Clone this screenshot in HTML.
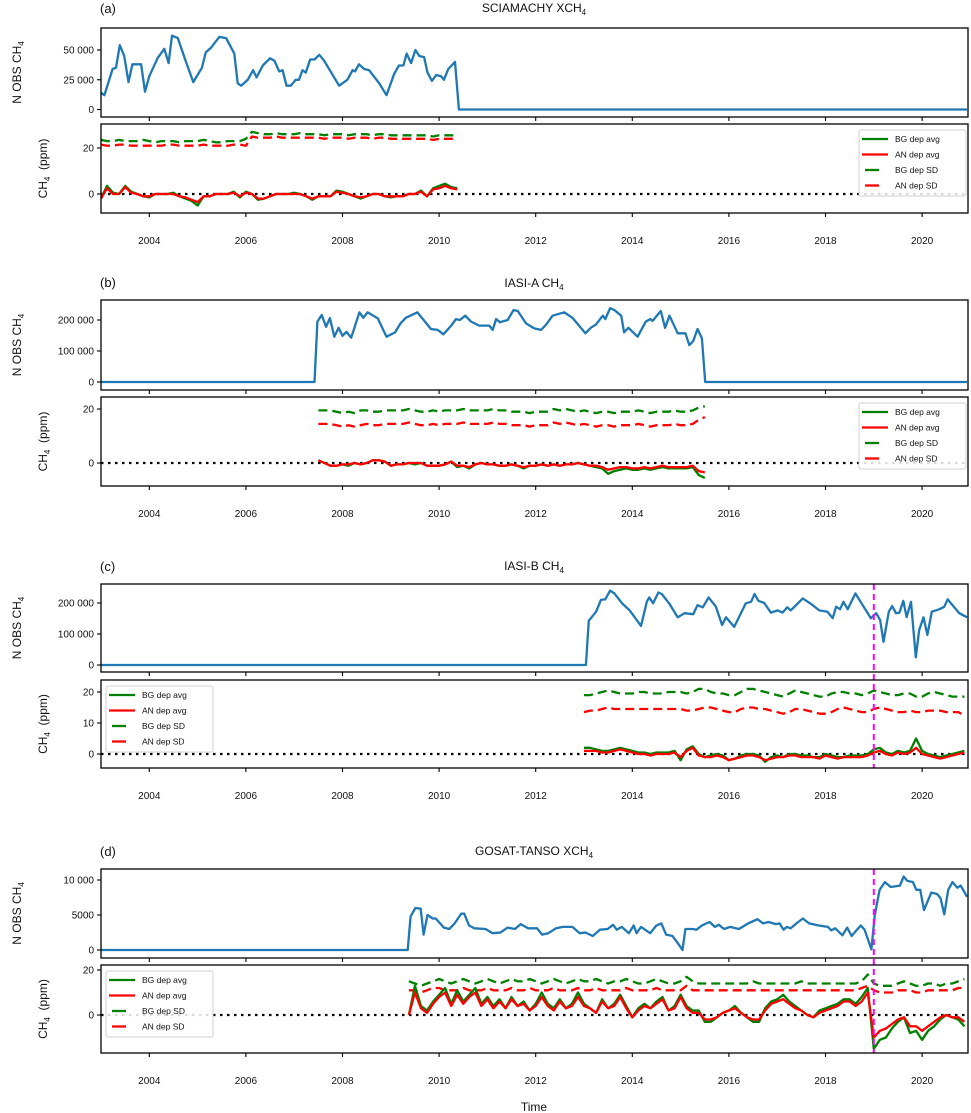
<!DOCTYPE html>
<html><head><meta charset="utf-8"><style>
html,body{margin:0;padding:0;background:#fff;}
svg{display:block;font-family:"Liberation Sans","DejaVu Sans",sans-serif;}
</style></head><body>
<svg id="fig" width="971" height="1113" viewBox="0 0 971 1113" xmlns="http://www.w3.org/2000/svg"></svg>
<script>
// ---------- shared x axis ----------
const xTickYears = [2004, 2006, 2008, 2010, 2012, 2014, 2016, 2018, 2020];
// ---------- Panel (a) SCIAMACHY ----------
const aObsTime = [2003.0,2003.07,2003.24,2003.31,2003.39,2003.48,2003.57,2003.65,2003.83,2003.91,2004.0,2004.17,2004.31,2004.40,2004.47,2004.59,2004.76,2004.91,2005.09,2005.17,2005.28,2005.45,2005.59,2005.76,2005.83,2005.90,2006.04,2006.15,2006.22,2006.35,2006.50,2006.59,2006.69,2006.76,2006.84,2006.93,2007.03,2007.10,2007.17,2007.24,2007.33,2007.42,2007.52,2007.62,2007.93,2008.10,2008.21,2008.26,2008.34,2008.45,2008.55,2008.76,2008.91,2009.07,2009.17,2009.26,2009.33,2009.42,2009.51,2009.59,2009.69,2009.76,2009.85,2009.94,2010.04,2010.10,2010.19,2010.33,2010.41,2020.93];
const aObsVal = [14,12,34,35,54,45,23,38,38,15,28,43,51,39,62,60,40,23,35,48,52,61,60,47,22,20,25,33,27,37,43,41,32,33,20,20,25,25,33,31,42,42,46,41,20,25,33,32,38,34,33,22,12,30,37,37,47,39,50,45,44,31,24,29,28,25,34,40,0,0];
const aDepStart = 2003.0;
const aBgAvg = [-2,3.5,0.5,0,3.5,1,0,-1,-1.5,0,0,0,0.5,-1,-2,-3,-5,-1,-1,0,0,0,1,-1.5,1,0,-2.5,-2,-1,0,0,0,0.5,0,-1,-2.5,-1,-1,-1,1.5,1,0,-1,-2,-1,0,0,-1,-1.5,-1,-1,0,0,1.5,-1,2.5,3.5,4.5,3,2.5];
const aAnAvg = [-2,2.5,0,0,3,0.5,0,-1,-1,0,0,0,0,-1,-1.5,-2.5,-3.5,-1,-1,0,0,0,0.5,-1,0.5,0,-2,-2,-1,0,0,0,0,0,-1,-2,-1,-1,-1,1,0.5,0,-1,-1.5,-1,0,0,-1,-1,-1,-1,0,0,1,-1,2,2.5,3.5,2.5,2];
const aBgSD = [23.5,23,23,23.5,23,23,23,23.5,23,22.5,23,23,23,22.5,23,23,23,23.5,23,22.5,22.5,23,23,23,24,27,26.5,26,26,26.5,26,26,26,26.5,26,26,26,25.5,26,26,26,25.5,26,26,26,25.5,26,26,25.5,25.5,25.5,25.5,25.5,25.5,25.5,25,25.5,25.5,25.5,25.5];
const aAnSD = [21.5,21,21,21.5,21.5,21,21,21,21,21,21,21.5,21.5,21,21,21,21,21.5,21,21,21,21,21.5,21.5,21,25,24.5,24.5,24.5,25,24.5,24.5,24.5,24.5,24.5,24.5,24.5,24,24.5,24.5,24.5,24,24.5,24.5,24.5,24,24.5,24.5,24,24,24,24,24,24,24,23.5,24,24,24,24];
// ---------- Panel (b) IASI-A ----------
const bObsTime = [2003.0,2007.42,2007.48,2007.57,2007.66,2007.74,2007.83,2007.92,2008.0,2008.08,2008.18,2008.35,2008.43,2008.52,2008.73,2008.91,2009.09,2009.2,2009.31,2009.55,2009.83,2009.97,2010.09,2010.25,2010.35,2010.43,2010.54,2010.66,2010.83,2011.04,2011.11,2011.18,2011.26,2011.42,2011.54,2011.63,2011.8,2011.97,2012.11,2012.21,2012.35,2012.59,2012.76,2013.03,2013.14,2013.25,2013.39,2013.44,2013.54,2013.63,2013.77,2013.83,2013.92,2014.11,2014.28,2014.37,2014.42,2014.59,2014.68,2014.77,2014.94,2015.1,2015.18,2015.26,2015.35,2015.44,2015.51,2020.93];
const bObsVal = [0,0,195,216,178,206,146,175,149,162,143,225,207,225,205,146,160,189,207,225,171,168,154,182,203,200,214,195,182,182,168,203,193,200,232,229,189,173,168,184,214,225,207,157,175,186,214,203,238,232,214,160,175,146,195,203,197,229,175,214,157,157,119,132,171,141,0,0];
const bDepStart = 2007.5;
const bBgAvg = [1,0,-1,-1,-0.5,-1,0,-0.5,0,1,1,0.5,-1,-0.5,-0.5,0,-0.5,0,-1,-1,-1,-0.5,0.5,-1.5,-1,-2,-0.5,0,-0.5,-0.5,-1,-1,-0.5,-1,-2,-1,-1,-0.5,-1,-0.5,-1,-0.5,-0.5,0,-0.5,-1,-1.5,-2,-4,-3,-2.5,-2,-2.5,-2.5,-2,-2.5,-2,-1.5,-2,-2,-2,-2,-1.5,-4.5,-5.5];
const bAnAvg = [1,0,-1,-1,-0.5,-0.5,0,-0.5,0,1,1,0.5,-1,-0.5,-0.5,0,0,0,-1,-1,-1,-0.5,0.5,-1,-1,-1.5,-0.5,0,-0.5,-0.5,-1,-1,-0.5,-1,-1.5,-1,-1,-0.5,-1,-0.5,-1,-0.5,-0.5,0,-0.5,-1,-1,-1.5,-2.5,-2,-1.5,-1.5,-2,-2,-1.5,-2,-1.5,-1,-1.5,-1.5,-1.5,-1.5,-1,-3,-3.5];
const bBgSD = [19.5,19.5,19.5,19,18.5,19,18.5,19.5,19.5,19,19,19.5,19.5,19.5,19.5,20,19.5,19,19,19.5,19,19.5,19.5,19.5,20,19.5,19.5,19.5,19.5,20,19.5,19.5,19,19,19,18.5,19,19,19,20,19.5,20,19.5,19,19.5,19,18.5,19,19,18.5,19,19,19,19.5,19,18.5,19,19,19,19.5,19,19,19.5,20.5,21];
const bAnSD = [14.5,14.5,14.5,14,13.5,14,13.5,14,14.5,14,14,14.5,14.5,14.5,14.5,15,14.5,14,14,14.5,14,14.5,14.5,14.5,15,14.5,14.5,14.5,14.5,15,14.5,14.5,14,14,14,13.5,14,14,14,15,14.5,15,14.5,14,14.5,14,13.5,14,14,13.5,14,14,14,14.5,14,13.5,14,14,14,14.5,14,14,14.5,16,17];
// ---------- Panel (c) IASI-B ----------
const cObsTime = [2003.0,2013.04,2013.1,2013.25,2013.35,2013.44,2013.54,2013.63,2013.8,2013.94,2014.18,2014.3,2014.35,2014.43,2014.54,2014.61,2014.77,2014.94,2015.08,2015.26,2015.35,2015.46,2015.58,2015.73,2015.86,2015.94,2016.11,2016.35,2016.46,2016.53,2016.61,2016.73,2016.87,2017.01,2017.11,2017.21,2017.28,2017.53,2017.7,2017.87,2018.04,2018.15,2018.22,2018.3,2018.37,2018.46,2018.62,2018.77,2018.94,2019.05,2019.13,2019.2,2019.31,2019.38,2019.46,2019.53,2019.61,2019.68,2019.77,2019.87,2019.94,2020.03,2020.11,2020.2,2020.36,2020.46,2020.53,2020.63,2020.77,2020.93];
const cObsVal = [0,0,143,172,210,212,240,231,197,177,126,204,218,199,234,229,197,154,167,164,193,186,218,188,129,154,123,199,204,229,207,200,169,176,169,186,176,215,197,176,172,151,188,180,204,180,231,193,151,167,145,75,172,190,167,169,207,155,204,25,113,154,97,172,180,188,212,193,167,154];
const cDepStart = 2013.0;
const cBgAvg = [2,2,1.5,1,1,1.5,2,1.5,1,0.5,0.5,0,0.5,0.5,0.5,1,-2,1.5,2.5,0,-1,-0.5,0,-0.5,-2,-1.5,-0.5,0,0,-0.5,-2.5,-1,-0.5,-1,0,0,-0.5,-0.5,-1,-1,0,-0.5,-1,-1,-0.5,-0.5,-0.5,0,1.5,2,0.5,0,1,0.5,1,5,1,0,-0.5,-1,-0.5,0,0.5,1];
const cAnAvg = [1,1,1,0.5,0.5,1,1.5,1,0.5,0,0,-0.5,0,0,0,0.5,-1,1,2,-0.5,-1,-1,-0.5,-1,-2,-1.5,-1,-0.5,-0.5,-1,-2,-1.5,-1,-1,-0.5,-0.5,-1,-1,-1,-1.5,-0.5,-1,-1.5,-1,-1,-1,-1,-0.5,0.5,1,0,-0.5,0.5,0,0.5,2,0,-0.5,-1,-1.5,-1,-0.5,0,0.5];
const cBgSD = [19,19,19.5,20,20.5,20,19.5,19.5,19.5,20,20,19.5,19.5,19.5,20,20,20,19.5,20,21,21,20,19.5,19.5,19,19,20,21,21,20.5,20,19.5,19,18.5,19.5,20.5,20,19.5,19,18.5,18.5,19.5,20,20,19.5,19.5,19,19.5,20.5,20,19.5,19,19,19.5,19.5,18.5,18.5,19.5,20,19.5,19,18.5,18.5,18.5];
const cAnSD = [13.5,14,14,14.5,15,14.5,14.5,14.5,14.5,14.5,14.5,14.5,14.5,14.5,14.5,14.5,14.5,14,14,14.5,15,15,14.5,14,13.5,13.5,14.5,15,15,14.5,14.5,14,13.5,13,13.5,14.5,14.5,14,13.5,13,13,13.5,14.5,15,14.5,14,13.5,13.5,14.5,15,14.5,14,13.5,13.5,14,13.5,13.5,14,14,14,13.5,13.5,13.5,12.5];
// ---------- Panel (d) GOSAT ----------
const dObsTime = [2003.0,2009.35,2009.41,2009.51,2009.62,2009.68,2009.76,2009.87,2009.93,2010.10,2010.21,2010.31,2010.46,2010.52,2010.62,2010.73,2010.96,2011.11,2011.27,2011.42,2011.57,2011.69,2011.84,2012.03,2012.13,2012.26,2012.42,2012.57,2012.76,2012.91,2013.03,2013.18,2013.33,2013.49,2013.6,2013.68,2013.78,2013.93,2014.03,2014.09,2014.18,2014.37,2014.5,2014.6,2014.7,2014.83,2014.93,2015.04,2015.1,2015.25,2015.33,2015.44,2015.6,2015.71,2015.79,2015.9,2016.02,2016.21,2016.4,2016.59,2016.71,2016.82,2016.97,2017.05,2017.13,2017.2,2017.28,2017.4,2017.53,2017.66,2017.86,2018.05,2018.12,2018.2,2018.35,2018.45,2018.54,2018.64,2018.73,2018.81,2018.95,2019.02,2019.12,2019.23,2019.35,2019.54,2019.62,2019.69,2019.81,2019.88,2019.96,2020.04,2020.19,2020.31,2020.38,2020.46,2020.54,2020.63,2020.73,2020.8,2020.93];
const dObsVal = [0,0,4.8,6.0,5.9,2.2,5.0,4.5,4.5,3.2,3.0,3.7,5.2,5.2,3.5,3.1,3.0,2.4,2.5,3.2,3.0,3.7,3.1,3.1,2.2,2.4,3.1,3.3,3.3,2.4,2.5,2.0,2.9,3.0,3.6,2.9,3.3,2.4,3.5,2.4,3.3,2.4,3.5,3.8,2.2,2.0,1.1,0,3.0,3.0,2.9,3.5,4.0,3.3,3.6,3.0,3.3,3.0,3.8,4.4,3.8,4.0,3.7,3.8,2.9,3.3,3.1,3.8,4.5,3.8,3.5,3.3,2.8,3.1,2.1,3.2,2.0,2.8,3.5,2.9,0.1,5.0,8.6,9.7,9.0,9.2,10.5,9.9,9.7,8.6,8.6,5.7,8.2,8.0,7.4,5.1,8.6,9.7,8.9,9.2,7.6];
const dDepStart = 2009.375;
const dBgAvg = [0,13,4,2,6,9,12,5,11,6,9,12,5,8,4,7,3,8,4,6,2,5,10,5,3,7,3,5,10,5,3,1,7,3,5,9,4,-1,3,5,3,6,8,2,4,9,4,2,2,-3,-3,-1,1,2,4,1,-1,-3,-3,3,6,7,9,6,4,2,0,-1,2,3,4,5,7,7,5,8,12,-15,-11,-10,-6,-3,-1,-8,-7,-11,-7,-5,-2,0,-1,-2,-5];
const dAnAvg = [0,10,3,1,5,8,10,4,9,5,8,10,4,7,3,6,3,7,4,5,2,4,8,4,2,6,3,4,8,4,3,1,6,3,4,8,3,-1,2,4,3,5,7,2,3,8,3,1,1,-2,-2,-1,1,2,3,1,-1,-2,-2,2,5,6,7,5,3,2,0,-1,1,2,3,4,6,6,4,6,10,-10,-7,-6,-4,-2,-1,-5,-5,-7,-5,-3,-1,0,-1,-1,-3];
const dBgSD = [15,14,13,14,15,16,15,14,15,16,15,14,15,16,15,14,15,16,15,15,16,15,14,15,16,15,14,15,16,15,15,16,15,14,15,15,16,15,14,14,15,16,15,14,14,15,17,15,14,14,14,14,14,14,14,14,14,15,14,14,14,14,14,14,14,15,14,14,14,14,14,14,14,14,14,15,18,14,13,13,13,14,15,14,13,13,14,14,13,14,14,15,16];
const dAnSD = [11,11,10,11,12,12,11,11,11,12,11,11,11,12,11,11,11,12,11,11,12,11,11,11,12,11,11,11,12,11,11,12,11,11,11,11,12,11,11,11,11,12,11,11,11,11,13,11,11,11,11,11,11,11,11,11,11,11,11,11,11,11,11,11,11,11,11,11,11,11,11,11,11,11,11,12,13,11,10,10,10,11,11,11,10,10,11,11,11,11,11,12,12];

const DEP_STEP = 0.125;
const panelsCfg = [
 {id:'a', title:'SCIAMACHY XCH', letter:'(a)', titleY:12, letterY:13, top:[28,117], bot:[124,213],
  topRef:[0,109.5,50000,50], topTicks:[0,25000,50000], topLabels:['0','25 000','50 000'], obsScale:1000,
  botRef:[0,194,20,148], botTicks:[0,20], obsT:aObsTime, obsV:aObsVal, depStart:aDepStart,
  bgAvg:aBgAvg, anAvg:aAnAvg, bgSD:aBgSD, anSD:aAnSD, legend:'right', magenta:false},
 {id:'b', title:'IASI-A CH', letter:'(b)', titleY:287, letterY:287, top:[300,390], bot:[397,486],
  topRef:[0,382,200000,320], topTicks:[0,100000,200000], topLabels:['0','100 000','200 000'], obsScale:1000,
  botRef:[0,463,20,409], botTicks:[0,20], obsT:bObsTime, obsV:bObsVal, depStart:bDepStart,
  bgAvg:bBgAvg, anAvg:bAnAvg, bgSD:bBgSD, anSD:bAnSD, legend:'right', magenta:false},
 {id:'c', title:'IASI-B CH', letter:'(c)', titleY:570, letterY:571, top:[584,672], bot:[680,768],
  topRef:[0,665,200000,603], topTicks:[0,100000,200000], topLabels:['0','100 000','200 000'], obsScale:1000,
  botRef:[0,754,20,692], botTicks:[0,10,20], obsT:cObsTime, obsV:cObsVal, depStart:cDepStart,
  bgAvg:cBgAvg, anAvg:cAnAvg, bgSD:cBgSD, anSD:cAnSD, legend:'left', magenta:true},
 {id:'d', title:'GOSAT-TANSO XCH', letter:'(d)', titleY:855, letterY:856, top:[869,958], bot:[965,1053],
  topRef:[0,950,10000,880], topTicks:[0,5000,10000], topLabels:['0','5000','10 000'], obsScale:1000,
  botRef:[0,1015,20,970], botTicks:[0,20], obsT:dObsTime, obsV:dObsVal, depStart:dDepStart,
  bgAvg:dBgAvg, anAvg:dAnAvg, bgSD:dBgSD, anSD:dAnSD, legend:'left', magenta:true}
];

const NS='http://www.w3.org/2000/svg';
const svg=document.getElementById('fig');
const X0=101, X1=968, YR0=2003.0, PXY=48.3;
function xs(t){return X0+(t-YR0)*PXY;}
function mk(tag,attrs,parent){const e=document.createElementNS(NS,tag);for(const k in attrs)e.setAttribute(k,attrs[k]);(parent||svg).appendChild(e);return e;}
function lin(ref){return v=>ref[1]+(v-ref[0])*(ref[3]-ref[1])/(ref[2]-ref[0]);}

panelsCfg.forEach(p=>{
  const g=mk('g',{});
  
  
  const ty=lin(p.topRef), by=lin(p.botRef);
  const tt=mk('text',{x:534,y:p.titleY,'font-size':'12','text-anchor':'middle',fill:'#111'},g);
  
  
  tt.textContent=p.title;
  const sub=mk('tspan',{'font-size':'8',dy:'3'},tt); sub.textContent='4';
  const lt=mk('text',{x:100,y:p.letterY,'font-size':'13',fill:'#111'},g);
  
  
  lt.textContent=p.letter;
  const cid='clip'+p.id;
  const defs=mk('defs',{},g);
  const cpT=mk('clipPath',{id:cid+'t'},defs); mk('rect',{x:X0,y:p.top[0],width:X1-X0,height:p.top[1]-p.top[0]},cpT);
  const cpB=mk('clipPath',{id:cid+'b'},defs); mk('rect',{x:X0,y:p.bot[0],width:X1-X0,height:p.bot[1]-p.bot[0]},cpB);
  let d='';
  p.obsT.forEach((t,i)=>{d+=(i?'L':'M')+xs(t).toFixed(1)+','+ty(p.obsV[i]*p.obsScale).toFixed(1);});
  const ol=mk('path',{d:d,fill:'none',stroke:'#1f77b4','stroke-width':'2.3','stroke-linejoin':'round','clip-path':'url(#'+cid+'t)'},g);
  
  
  const zl=mk('line',{x1:X0,x2:X1,y1:by(0),y2:by(0),stroke:'#000','stroke-width':'2.2','stroke-dasharray':'2.5 4.5'},g);
  
  
  function series(arr,color,dash,name){
    let s='';arr.forEach((v,i)=>{const t=p.depStart+i*DEP_STEP;s+=(i?'L':'M')+xs(t).toFixed(1)+','+by(v).toFixed(1);});
    const a={d:s,fill:'none',stroke:color,'stroke-width':'2.3','stroke-linejoin':'round','clip-path':'url(#'+cid+'b)'};
    if(dash)a['stroke-dasharray']='9 5';
    const e=mk('path',a,g);
    
    
  }
  series(p.bgSD,'#008000',true,'bg-dep-sd');
  series(p.anSD,'#ff0000',true,'an-dep-sd');
  series(p.bgAvg,'#008000',false,'bg-dep-avg');
  series(p.anAvg,'#ff0000',false,'an-dep-avg');
  if(p.magenta){
    const ml=mk('line',{x1:xs(2019.0),x2:xs(2019.0),y1:p.top[0],y2:p.bot[1],stroke:'#ff00ff','stroke-width':'2','stroke-dasharray':'6 4'},g);
    
    
  }
  [p.top,p.bot].forEach((r,k)=>{
    const fr=mk('rect',{x:X0,y:r[0],width:X1-X0,height:r[1]-r[0],fill:'none',stroke:'#000','stroke-width':'1.3'},g);
    
    
    xTickYears.forEach(yv=>{mk('line',{x1:xs(yv),x2:xs(yv),y1:r[1],y2:r[1]+4,stroke:'#000','stroke-width':'1.1'},g);});
  });
  xTickYears.forEach(yv=>{
    const tl=mk('text',{x:xs(yv),y:p.bot[1]+31,'font-size':'10','text-anchor':'middle',fill:'#111'},g);
    
    
    tl.textContent=yv;
  });
  p.topTicks.forEach((v,i)=>{
    const y=ty(v);mk('line',{x1:X0-4,x2:X0,y1:y,y2:y,stroke:'#000','stroke-width':'1.1'},g);
    const tl=mk('text',{x:X0-7,y:y+3.5,'font-size':'10','text-anchor':'end',fill:'#111'},g);
    
    
    tl.textContent=p.topLabels[i];
  });
  p.botTicks.forEach(v=>{
    const y=by(v);mk('line',{x1:X0-4,x2:X0,y1:y,y2:y,stroke:'#000','stroke-width':'1.1'},g);
    const tl=mk('text',{x:X0-7,y:y+3.5,'font-size':'10','text-anchor':'end',fill:'#111'},g);
    
    
    tl.textContent=v;
  });
  const cy1=(p.top[0]+p.top[1])/2, cy2=(p.bot[0]+p.bot[1])/2;
  const yt1=mk('text',{x:21,y:cy1,'font-size':'12','text-anchor':'middle',fill:'#111',transform:'rotate(-90 21 '+cy1+')'},g);
  
  
  yt1.textContent='N OBS CH';
  const s1=mk('tspan',{'font-size':'8',dy:'3'},yt1);s1.textContent='4';
  const yt2=mk('text',{x:47,y:cy2,'font-size':'12','text-anchor':'middle',fill:'#111',transform:'rotate(-90 47 '+cy2+')'},g);
  
  
  yt2.textContent='CH';
  const s2=mk('tspan',{'font-size':'8',dy:'3'},yt2);s2.textContent='4';
  const s3=mk('tspan',{dy:'-3'},yt2);s3.textContent='\u00a0 (ppm)';
  const lx=p.legend==='right'?859:106, ly=p.bot[0]+6;
  const lg=mk('g',{},g);
  
  
  mk('rect',{x:lx,y:ly,width:107,height:66,rx:2,fill:'#fff','fill-opacity':'0.85',stroke:'#d0d0d0','stroke-width':'1'},lg);
  const entries=[['BG dep avg','#008000',false],['AN dep avg','#ff0000',false],['BG dep SD','#008000',true],['AN dep SD','#ff0000',true]];
  entries.forEach((e,i)=>{
    const yy=ly+9+i*15.5;
    const le=mk('g',{},lg);
    
    
    if(e[2]) mk('line',{x1:lx+6,x2:lx+20,y1:yy,y2:yy,stroke:e[1],'stroke-width':'2.3'},le);
    else mk('line',{x1:lx+3,x2:lx+29,y1:yy,y2:yy,stroke:e[1],'stroke-width':'2.3'},le);
    const t=mk('text',{x:lx+36,y:yy+3,'font-size':'8.5',fill:'#111'},le);t.textContent=e[0];
  });
});
const xt=mk('text',{x:534,y:1111,'font-size':'12','text-anchor':'middle',fill:'#111'});


xt.textContent='Time';
</script>
</body></html>
